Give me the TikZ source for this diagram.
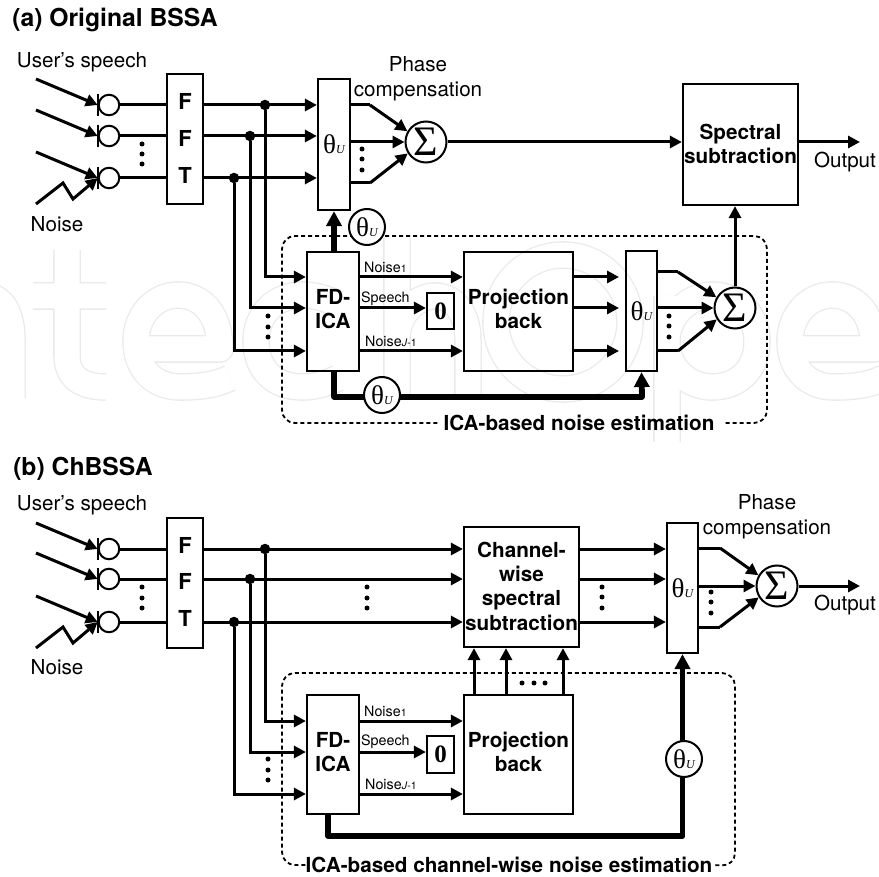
\documentclass[tikz,border=0pt]{standalone}
\usepackage{fontspec}
\setmainfont{TeX Gyre Heros}
\newfontfamily\serifsym{Liberation Serif}
\usetikzlibrary{arrows.meta,calc}
\definecolor{wmgray}{HTML}{EAEAEA}
\newcommand{\thetaU}{{\serifsym\fontsize{27}{27}\selectfont θ\fontsize{12}{12}\selectfont\itshape U}}
\newcommand{\sml}[1]{{\fontsize{10.5}{10.5}\selectfont #1}}

\begin{document}
\begin{tikzpicture}[
      x=1pt, y=-1pt,
      lbl/.style={font=\fontsize{20.6}{24.6}\selectfont, align=center, inner sep=0pt},
      ttl/.style={font=\fontsize{24.7}{28}\selectfont\bfseries, inner sep=0pt},
      bld/.style={font=\fontsize{20.7}{24.3}\selectfont\bfseries, align=center, inner sep=0pt},
      sub/.style={font=\fontsize{14.3}{16}\selectfont, inner sep=0pt},
      box/.style={draw, line width=2.2pt, inner sep=0pt},
      mic/.style={draw, circle, line width=2pt, minimum size=20.5pt, inner sep=0pt},
      junc/.style={fill, circle, minimum size=10.5pt, inner sep=0pt},
      vdot/.style={fill, circle, minimum size=5pt, inner sep=0pt},
      sumc/.style={draw, circle, fill=white, line width=2pt, minimum size=41pt, inner sep=0pt, font=\serifsym\fontsize{42}{42}\selectfont},
      thc/.style={draw, circle, fill=white, line width=2pt, minimum size=36pt, inner sep=0pt},
      arr/.style={-{Triangle[length=12pt,width=12pt]}, line width=3pt},
      wire/.style={line width=3pt},
      fat/.style={-{Triangle[length=15pt,width=15pt]}, line width=5.8pt, line join=round},
      frame/.style={line width=1.8pt, dash pattern=on 4pt off 3pt, rounded corners=13pt},
      wm/.style={draw=wmgray, line width=1.3pt, double=white, double distance=25pt, line join=round}
    ]
    \useasboundingbox (0,0) rectangle (879,877);

    % faint backdrop lettering
    \begin{scope}
      \clip (0,0) rectangle (879,877);
      \draw[wm] (12,398) -- (12,340) .. controls (12,310) and (0,296) .. (-15,296)
        (67,250) -- (67,355) .. controls (67,380) and (85,387) .. (106,387) (33,296) -- (106,296)
        (136,349) -- (220,349) .. controls (220,312) and (200,295) .. (178,295) .. controls (155,295) and (136,315) .. (136,341) .. controls (136,370) and (155,387) .. (180,387) .. controls (200,387) and (215,385) .. (230,378);
      \draw[wm] (338,304) .. controls (325,298) and (315,295) .. (302,295) .. controls (275,295) and (256,315) .. (256,341) .. controls (256,370) and (275,387) .. (302,387) .. controls (315,387) and (325,384) .. (338,378);
      \draw[wm] (397,238) -- (397,398) (397,340) .. controls (397,310) and (420,296) .. (435,296) .. controls (455,296) and (468,315) .. (468,340) -- (468,398);
      \draw[wm] (563,322) circle (67);
      \draw[wm] (667,442) -- (667,296) (667,341) .. controls (667,315) and (690,295) .. (712,295) .. controls (738,295) and (757,315) .. (757,341) .. controls (757,370) and (738,387) .. (712,387) .. controls (690,387) and (667,370) .. (667,341);
      \draw[wm] (790,349) -- (874,349) .. controls (874,312) and (854,295) .. (832,295) .. controls (809,295) and (790,315) .. (790,341) .. controls (790,370) and (809,387) .. (834,387) .. controls (854,387) and (869,385) .. (884,378);
    \end{scope}

    % ---- (a) ----
    \node[ttl] (titleA) at (115,20) {(a) Original BSSA};
    \node[lbl] (userA) at (82,62) {User's speech};
    \node[lbl] (noiseA) at (57,224) {Noise};
    \node[lbl] (phaseA) at (418,79) {Phase\\compensation};
    \node[lbl] (outA) at (845,162) {Output};

    \node[mic] (micA1) at (109,105) {};
    \node[mic] (micA2) at (109,136) {};
    \node[mic] (micA3) at (109,178) {};
    \coordinate (srcA1) at (36,79);
    \coordinate (srcA2) at (36,110);
    \coordinate (srcA3) at (36,152);
    \coordinate (srcA4) at (36,204);
    \foreach \m in {micA1,micA2,micA3} \draw[line width=1.7pt] ($(\m.west)+(0,-11)$) -- ($(\m.west)+(0,11)$);
    \draw[arr] (srcA1) -- (micA1.west);
    \draw[arr] (srcA2) -- (micA2.west);
    \draw[arr] (srcA3) -- (micA3.west);
    \draw[arr] (srcA4) -- (63,183) -- (73,199) -- (micA3.west);
    \foreach \y in {144,154,164} \node[vdot] (dmA\y) at (142,\y) {};

    \node[box, minimum width=36pt, minimum height=130pt] (fftA) at (185,139) {};
    \node[bld, font=\fontsize{22}{22}\selectfont\bfseries] (fA1) at (185,101) {F};
    \node[bld, font=\fontsize{22}{22}\selectfont\bfseries] (fA2) at (185,138) {F};
    \node[bld, font=\fontsize{22}{22}\selectfont\bfseries] (fA3) at (185,175) {T};
    \draw[wire] (micA1.east) -- (micA1.east -| fftA.west);
    \draw[wire] (micA2.east) -- (micA2.east -| fftA.west);
    \draw[wire] (micA3.east) -- (micA3.east -| fftA.west);

    \node[box, minimum width=32pt, minimum height=131pt] (thA) at (334,144.5) {\thetaU};
    \node[box, minimum width=52pt, minimum height=119pt] (icaA) at (333,311.5) {};
    \node[bld] (icaTxtA) at (333,309) {FD-\\ICA};
    \node[box, minimum width=109pt, minimum height=119pt] (pbA) at (518.5,311.5) {};
    \node[bld] (pbTxtA) at (518.5,309) {Projection\\back};
    \node[box, minimum width=31pt, minimum height=120pt] (thB) at (641.5,311) {\thetaU};
    \node[box, minimum width=27pt, minimum height=36pt, font=\serifsym\bfseries\fontsize{25}{25}\selectfont] (zeroA) at (440.5,311) {0};
    \node[box, minimum width=115pt, minimum height=121pt] (specA) at (740.5,144.5) {};
    \node[bld] (specTxtA) at (740.5,144) {Spectral\\subtraction};
    \node[sumc] (sumA) at (426,142) {Σ};
    \node[sumc] (sumB) at (735,308) {Σ};

    \node[junc] (jA1) at (265,105) {};
    \node[junc] (jA2) at (250,136) {};
    \node[junc] (jA3) at (234,178) {};
    \draw[arr] (fftA.east |- jA1) -- (thA.west |- jA1);
    \draw[arr] (fftA.east |- jA2) -- (thA.west |- jA2);
    \draw[arr] (fftA.east |- jA3) -- (thA.west |- jA3);
    \coordinate (inA1) at (icaA.west |- 0,277);
    \coordinate (inA2) at (icaA.west |- 0,308);
    \coordinate (inA3) at (icaA.west |- 0,351);
    \draw[arr] (jA1) |- (inA1);
    \draw[arr] (jA2) |- (inA2);
    \draw[arr] (jA3) |- (inA3);
    \foreach \y in {316,327,337} \node[vdot] (dfA\y) at (268,\y) {};

    \draw[wire] (thA.east |- 0,105) -- (370,105);
    \draw[arr] (370,105) -- (sumA.150);
    \draw[arr] (thA.east |- sumA) -- (sumA.west);
    \draw[wire] (thA.east |- 0,183) -- (370,183);
    \draw[arr] (370,183) -- (sumA.212);
    \foreach \y in {149,159,170} \node[vdot] (dtA\y) at (362,\y) {};

    \draw[arr] (sumA.east) -- (specA.west |- sumA);
    \coordinate (outEndA) at (860,142);
    \draw[arr] (specA.east |- outEndA) -- (outEndA);

    \draw[arr] (icaA.east |- inA1) -- (pbA.west |- inA1);
    \draw[arr] (icaA.east |- inA2) -- (zeroA.west |- inA2);
    \draw[arr] (icaA.east |- inA3) -- (pbA.west |- inA3);
    \node[sub, anchor=west] (n1A) at (364,267) {Noise\sml{1}};
    \node[sub, anchor=west] (n2A) at (361,299) {Speech};
    \node[sub, anchor=west] (n3A) at (365,341) {Noise\sml{\textit{J}-1}};

    \draw[arr] (pbA.east |- inA1) -- (619,277);
    \draw[arr] (pbA.east |- inA2) -- (619,308);
    \draw[arr] (pbA.east |- inA3) -- (619,351);

    \draw[wire] (thB.east |- 0,272) -- (678,272);
    \draw[arr] (678,272) -- (sumB.150);
    \draw[arr] (thB.east |- sumB) -- (sumB.west);
    \draw[wire] (thB.east |- 0,351) -- (678,351);
    \draw[arr] (678,351) -- (sumB.212);
    \foreach \y in {316,326,337} \node[vdot] (dtB\y) at (669,\y) {};
    \draw[arr] (sumB.north) -- (sumB.north |- specA.south);

    \node[bld] (estA) at (579,423) {ICA-based noise estimation};
    \draw[frame] ($(estA.west)+(-6,0)$) -| (282,236) -| (767,423) -- ($(estA.east)+(11,0)$);
    \draw[fat] (icaA.north -| thA) -- (thA.south);
    \node[thc] (thcA) at (367,227) {\thetaU};
    \coordinate (fbA) at (642,397);
    \draw[fat] (thA.south |- icaA.south) |- (fbA) -- (thB.south);
    \node[thc] (thcB) at (382,395) {\thetaU};

    % ---- (b) ----
    \node[ttl] (titleB) at (83,469) {(b) ChBSSA};
    \node[lbl] (userB) at (82,505) {User's speech};
    \node[lbl] (noiseB) at (57,667) {Noise};
    \node[lbl] (phaseB) at (767,517) {Phase\\compensation};
    \node[lbl] (outB) at (845,605) {Output};

    \node[mic] (micB1) at (109,549) {};
    \node[mic] (micB2) at (109,579) {};
    \node[mic] (micB3) at (109,622) {};
    \coordinate (srcB1) at (36,523);
    \coordinate (srcB2) at (36,553);
    \coordinate (srcB3) at (36,596);
    \coordinate (srcB4) at (36,648);
    \foreach \m in {micB1,micB2,micB3} \draw[line width=1.7pt] ($(\m.west)+(0,-11)$) -- ($(\m.west)+(0,11)$);
    \draw[arr] (srcB1) -- (micB1.west);
    \draw[arr] (srcB2) -- (micB2.west);
    \draw[arr] (srcB3) -- (micB3.west);
    \draw[arr] (srcB4) -- (63,627) -- (73,643) -- (micB3.west);
    \foreach \y in {587,598,608} \node[vdot] (dmB\y) at (142,\y) {};

    \node[box, minimum width=36pt, minimum height=130pt] (fftB) at (185,583) {};
    \node[bld, font=\fontsize{22}{22}\selectfont\bfseries] (fB1) at (185,545) {F};
    \node[bld, font=\fontsize{22}{22}\selectfont\bfseries] (fB2) at (185,581) {F};
    \node[bld, font=\fontsize{22}{22}\selectfont\bfseries] (fB3) at (185,618) {T};
    \draw[wire] (micB1.east) -- (micB1.east -| fftB.west);
    \draw[wire] (micB2.east) -- (micB2.east -| fftB.west);
    \draw[wire] (micB3.east) -- (micB3.east -| fftB.west);

    \node[box, minimum width=115pt, minimum height=120pt] (chanB) at (521.5,587) {};
    \node[bld] (chanTxtB) at (521.5,586) {Channel-\\wise\\spectral\\subtraction};
    \node[box, minimum width=31pt, minimum height=130pt] (thD) at (682.5,588) {\thetaU};
    \node[box, minimum width=52pt, minimum height=119pt] (icaB) at (333,754.5) {};
    \node[bld] (icaTxtB) at (333,752) {FD-\\ICA};
    \node[box, minimum width=109pt, minimum height=119pt] (pbB) at (518.5,754.5) {};
    \node[bld] (pbTxtB) at (518.5,752) {Projection\\back};
    \node[box, minimum width=27pt, minimum height=37pt, font=\serifsym\bfseries\fontsize{25}{25}\selectfont] (zeroB) at (440.5,754.5) {0};
    \node[sumc] (sumD) at (777,586) {Σ};

    \node[junc] (jB1) at (265,549) {};
    \node[junc] (jB2) at (250,579) {};
    \node[junc] (jB3) at (234,622) {};
    \draw[arr] (fftB.east |- jB1) -- (chanB.west |- jB1);
    \draw[arr] (fftB.east |- jB2) -- (chanB.west |- jB2);
    \draw[arr] (fftB.east |- jB3) -- (chanB.west |- jB3);
    \foreach \y in {587,598,608} \node[vdot] (dlB\y) at (367,\y) {};
    \coordinate (inB1) at (icaB.west |- 0,721);
    \coordinate (inB2) at (icaB.west |- 0,752);
    \coordinate (inB3) at (icaB.west |- 0,794);
    \draw[arr] (jB1) |- (inB1);
    \draw[arr] (jB2) |- (inB2);
    \draw[arr] (jB3) |- (inB3);
    \foreach \y in {759,770,780} \node[vdot] (dfB\y) at (268,\y) {};

    \draw[arr] (chanB.east |- jB1) -- (thD.west |- jB1);
    \draw[arr] (chanB.east |- jB2) -- (thD.west |- jB2);
    \draw[arr] (chanB.east |- jB3) -- (thD.west |- jB3);
    \foreach \y in {587,597,608} \node[vdot] (dcB\y) at (602,\y) {};

    \draw[wire] (thD.east |- 0,548) -- (720,548);
    \draw[arr] (720,548) -- (sumD.150);
    \draw[arr] (thD.east |- sumD) -- (sumD.west);
    \draw[wire] (thD.east |- 0,627) -- (720,627);
    \draw[arr] (720,627) -- (sumD.212);
    \foreach \y in {592,602,613} \node[vdot] (dtD\y) at (711,\y) {};
    \coordinate (outEndB) at (860,586);
    \draw[arr] (sumD.east) -- (outEndB);

    \draw[arr] (icaB.east |- inB1) -- (pbB.west |- inB1);
    \draw[arr] (icaB.east |- inB2) -- (zeroB.west |- inB2);
    \draw[arr] (icaB.east |- inB3) -- (pbB.west |- inB3);
    \node[sub, anchor=west] (n1B) at (364,711) {Noise\sml{1}};
    \node[sub, anchor=west] (n2B) at (361,742) {Speech};
    \node[sub, anchor=west] (n3B) at (365,784) {Noise\sml{\textit{J}-1}};

    \coordinate (upB1) at (474,695);
    \coordinate (upB2) at (506,695);
    \coordinate (upB3) at (563,695);
    \draw[arr] (upB1) -- (upB1 |- chanB.south);
    \draw[arr] (upB2) -- (upB2 |- chanB.south);
    \draw[arr] (upB3) -- (upB3 |- chanB.south);
    \foreach \x in {522,534,545} \node[vdot] (dpB\x) at (\x,683) {};

    \node[bld] (estB) at (509,865) {ICA-based channel-wise noise estimation};
    \draw[frame] (estB.west) -| (282,673) -| (735,866) -- (estB.east);
    \coordinate (fbB) at (328,836);
    \draw[fat] (fbB |- icaB.south) -- (fbB) -| (thD.south);
    \node[thc] (thcD) at (684,759) {\thetaU};
  \end{tikzpicture}
\end{document}
